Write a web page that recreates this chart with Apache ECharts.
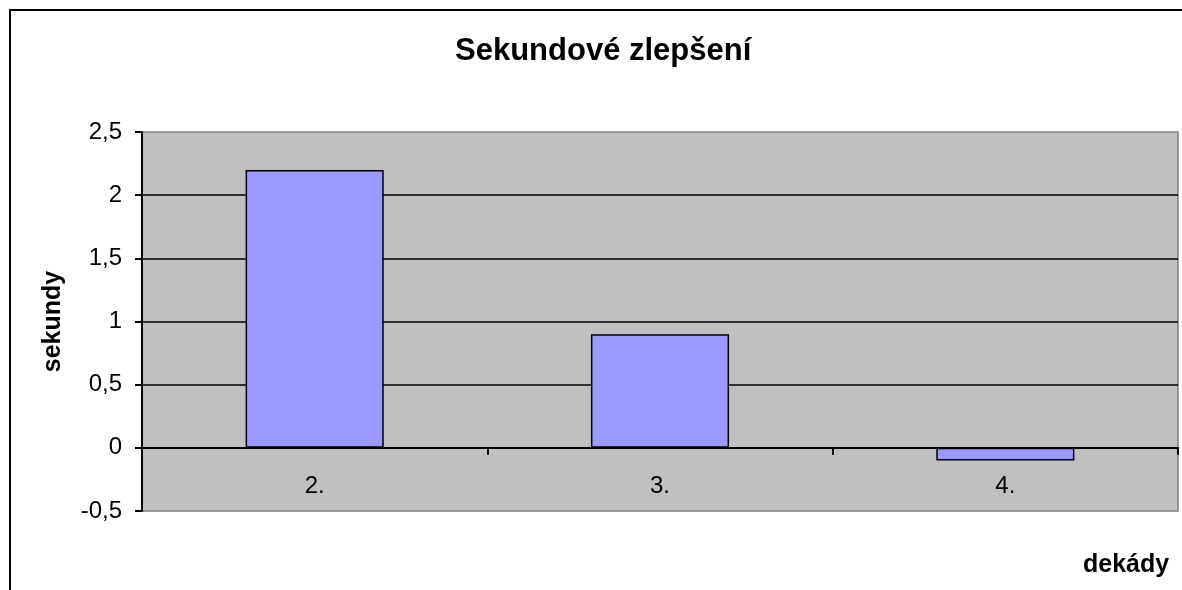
<!DOCTYPE html>
<html><head><meta charset="utf-8">
<script src="https://cdn.jsdelivr.net/npm/echarts@6/dist/echarts.min.js"></script>
<style>html,body{margin:0;padding:0;background:#fff}#c{width:1182px;height:590px}</style>
</head><body><div id="c"></div>
<script>
const categories = ['2.', '3.', '4.'];
const values = [2.2, 0.9, -0.1];
const yTicks = {min: -0.5, max: 2.5, interval: 0.5};
const titleText = 'Sekundové zlepšení';
const yName = 'sekundy';
const xName = 'dekády';

const chart = echarts.init(document.getElementById('c'));
const font = '"Liberation Sans", Arial, sans-serif';
chart.setOption({
  animation: false,
  title: {text: titleText, left: 450, top: 31, textStyle: {fontFamily: font, fontSize: 31, fontWeight: 'bold', color: '#000'}},
  grid: {left: 142, right: 4, top: 132, bottom: 79, show: true, backgroundColor: '#c0c0c0', borderColor: '#808080', borderWidth: 1.5},
  xAxis: {
    type: 'category', data: categories,
    axisLine: {onZero: true, lineStyle: {color: '#000', width: 2}},
    axisTick: {show: true, alignWithLabel: false, length: 7, lineStyle: {color: '#000', width: 2}},
    axisLabel: {margin: -37, fontFamily: font, fontSize: 24, color: '#000'},
    splitLine: {show: false}
  },
  yAxis: {
    type: 'value', min: yTicks.min, max: yTicks.max, interval: yTicks.interval,
    name: yName, nameLocation: 'middle', nameGap: 76, nameRotate: 90,
    nameTextStyle: {fontFamily: font, fontSize: 25, fontWeight: 'bold', color: '#000'},
    axisLine: {show: true, lineStyle: {color: '#000', width: 2}},
    axisTick: {show: true, length: 7, lineStyle: {color: '#000', width: 2}},
    axisLabel: {margin: 20, fontFamily: font, fontSize: 24, color: '#000', formatter: v => String(v).replace('.', ',')},
    splitLine: {show: true, showMinLine: false, showMaxLine: false, lineStyle: {color: '#000', width: 1.5}}
  },
  series: [{
    type: 'bar', data: values, barWidth: '40%',
    itemStyle: {color: '#9999ff', borderColor: '#000', borderWidth: 1.5}
  }],
  graphic: [
    {type: 'line', shape: {x1: 9, y1: 10, x2: 1182, y2: 10}, style: {stroke: '#000', lineWidth: 2}},
    {type: 'line', shape: {x1: 10, y1: 10, x2: 10, y2: 590}, style: {stroke: '#000', lineWidth: 2}},
    {type: 'text', left: 1083, top: 553, style: {text: xName, fontFamily: font, fontSize: 25, fontWeight: 'bold', fill: '#000'}}
  ]
});
</script></body></html>
